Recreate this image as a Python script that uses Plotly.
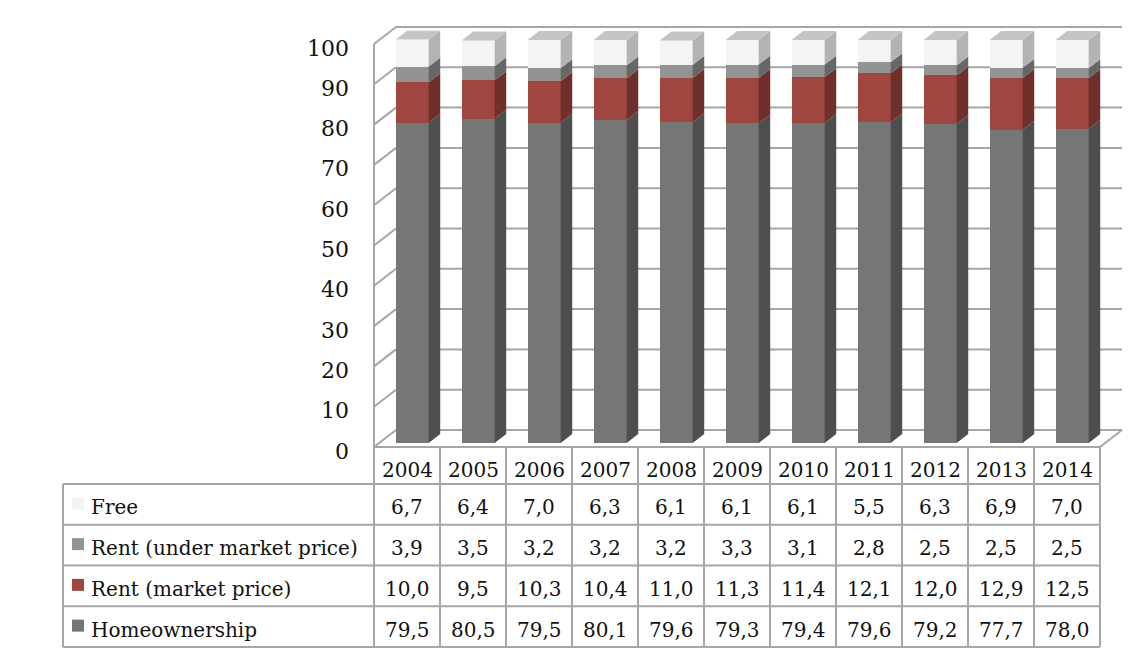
import plotly.graph_objects as go

# ---- data -------------------------------------------------------------
years = ["2004", "2005", "2006", "2007", "2008", "2009", "2010",
         "2011", "2012", "2013", "2014"]
homeownership = [79.5, 80.5, 79.5, 80.1, 79.6, 79.3, 79.4, 79.6, 79.2, 77.7, 78.0]
rent_market = [10.0, 9.5, 10.3, 10.4, 11.0, 11.3, 11.4, 12.1, 12.0, 12.9, 12.5]
rent_under = [3.9, 3.5, 3.2, 3.2, 3.2, 3.3, 3.1, 2.8, 2.5, 2.5, 2.5]
free = [6.7, 6.4, 7.0, 6.3, 6.1, 6.1, 6.1, 5.5, 6.3, 6.9, 7.0]
y_ticks = [0, 10, 20, 30, 40, 50, 60, 70, 80, 90, 100]

# series in stacking order (bottom -> top): name, values, front, side colours
series = [
    ("Homeownership", homeownership, "#767676", "#4e4e4e"),
    ("Rent (market price)", rent_market, "#9f4640", "#6f2f2b"),
    ("Rent (under market price)", rent_under, "#939393", "#676767"),
    ("Free", free, "#f3f5f5", "#b3b3b3"),
]
TOP_COLOR = "#c4c4c4"

# ---- geometry ---------------------------------------------------------
W, H = 1133, 648
COL0, COLW = 374, 66          # left edge / width of the table columns (px)
FLOOR_PX = 447                # pixel row of value 0 on the front plane
PPU = 4.03                    # pixels per value unit
DEPTH_PX_X, DEPTH_PX_Y = 22, 17   # oblique shift front -> back wall (px)

DX = DEPTH_PX_X / COLW        # x shift per unit depth, in category units
DY = DEPTH_PX_Y / PPU         # y shift per unit depth, in value units
BAR_FRONT, BAR_BACK = 0.235, 0.76   # depth of bar front / back faces
BAR_W = 0.5

x_range = [(0 - COL0) / COLW - 0.5, (W - COL0) / COLW - 0.5]
y_range = [(FLOOR_PX - H) / PPU, FLOOR_PX / PPU]


def P(cat, val, depth=0.0):
    return cat + depth * DX, val + depth * DY


def px_x(p):
    return p / W


def px_y(p):
    return 1 - p / H


FONT = "DejaVu Serif"
GRID = "#a6a6a6"
LINE_W = 2

fig = go.Figure()
shapes = []

# ---- walls & floor ----------------------------------------------------
left_front, right_front = -0.5, len(years) - 0.5
for v in y_ticks:
    x0, y0 = P(left_front, v, 1)
    x1, y1 = P(right_front, v, 1)
    shapes.append(dict(type="line", xref="x", yref="y", x0=x0, y0=y0, x1=x1, y1=y1,
                       line=dict(color=GRID, width=LINE_W), layer="below"))
    fx, fy = P(left_front, v, 0)
    shapes.append(dict(type="line", xref="x", yref="y", x0=fx, y0=fy, x1=x0, y1=y0,
                       line=dict(color=GRID, width=LINE_W), layer="below"))
# left wall front edge
shapes.append(dict(type="line", xref="x", yref="y", x0=left_front, y0=0,
                   x1=left_front, y1=100, line=dict(color=GRID, width=LINE_W),
                   layer="below"))
# floor front edge and right edge
shapes.append(dict(type="line", xref="x", yref="y", x0=left_front, y0=0,
                   x1=right_front, y1=0, line=dict(color=GRID, width=LINE_W),
                   layer="below"))
rx, ry = P(right_front, 0, 1)
shapes.append(dict(type="line", xref="x", yref="y", x0=right_front, y0=0,
                   x1=rx, y1=ry, line=dict(color=GRID, width=LINE_W), layer="below"))

# ---- 3D stacked columns -------------------------------------------------
n = len(years)
cum = [0.0] * n
depth_y = BAR_FRONT * DY
for name, vals, front, side in series:
    bases = [cum[i] + depth_y for i in range(n)]
    fig.add_trace(go.Bar(
        x=[i + BAR_FRONT * DX for i in range(n)], y=vals, base=bases,
        width=BAR_W, marker=dict(color=front, line=dict(width=0)),
        name=name, showlegend=False, hoverinfo="skip"))
    # side faces
    sx, sy = [], []
    d = BAR_BACK - BAR_FRONT
    for i in range(n):
        xr = i + BAR_FRONT * DX + BAR_W / 2
        b = cum[i] + depth_y
        t = b + vals[i]
        sx += [xr, xr, xr + d * DX, xr + d * DX, xr, None]
        sy += [b, t, t + d * DY, b + d * DY, b, None]
    fig.add_trace(go.Scatter(x=sx, y=sy, mode="lines", fill="toself",
                             fillcolor=side, line=dict(width=0, color=side),
                             showlegend=False, hoverinfo="skip"))
    cum = [cum[i] + vals[i] for i in range(n)]

# top faces of the stacks
tx, ty = [], []
d = BAR_BACK - BAR_FRONT
for i in range(n):
    xl = i + BAR_FRONT * DX - BAR_W / 2
    xr = xl + BAR_W
    t = cum[i] + depth_y
    tx += [xl, xr, xr + d * DX, xl + d * DX, xl, None]
    ty += [t, t, t + d * DY, t + d * DY, t, None]
fig.add_trace(go.Scatter(x=tx, y=ty, mode="lines", fill="toself",
                         fillcolor=TOP_COLOR, line=dict(width=0, color=TOP_COLOR),
                         showlegend=False, hoverinfo="skip"))

# ---- value axis labels ----------------------------------------------------
annotations = []
for v in y_ticks:
    annotations.append(dict(x=px_x(351), xref="paper", y=v, yref="y",
                            text=str(v), showarrow=False, xanchor="right",
                            yanchor="middle", yshift=-4,
                            font=dict(family=FONT, size=22, color="#111")))

# ---- data table ---------------------------------------------------------
HEAD_BOTTOM = 484
ROW_H = (647 - HEAD_BOTTOM) / 4
TABLE_LEFT = 63
TABLE_RIGHT = COL0 + COLW * n
TEXT_DROP = 3                   # baseline nudge for table text (px)
rows = list(reversed(series))   # Free on top, Homeownership at bottom


def tline(x0, y0, x1, y1):
    shapes.append(dict(type="line", xref="paper", yref="paper",
                       x0=px_x(x0), y0=px_y(y0), x1=px_x(x1), y1=px_y(y1),
                       line=dict(color=GRID, width=LINE_W)))


for k in range(n + 1):
    tline(COL0 + COLW * k, FLOOR_PX, COL0 + COLW * k, 647)
for r in range(5):
    yy = HEAD_BOTTOM + ROW_H * r
    tline(TABLE_LEFT, yy, TABLE_RIGHT, yy)
tline(TABLE_LEFT, HEAD_BOTTOM, TABLE_LEFT, 647)

for i, yr in enumerate(years):
    annotations.append(dict(x=i, xref="x",
                            y=px_y((FLOOR_PX + HEAD_BOTTOM) / 2 + 5),
                            yref="paper", text=yr, showarrow=False,
                            xanchor="center", yanchor="middle",
                            font=dict(family=FONT, size=20, color="#111")))

for r, (name, vals, front, side) in enumerate(rows):
    cy = HEAD_BOTTOM + ROW_H * (r + 0.5)
    shapes.append(dict(type="rect", xref="paper", yref="paper",
                       x0=px_x(72), x1=px_x(84), y0=px_y(cy - 7), y1=px_y(cy + 5),
                       fillcolor=front, line=dict(width=0)))
    annotations.append(dict(x=px_x(89), xref="paper", y=px_y(cy + TEXT_DROP),
                            yref="paper", text=name, showarrow=False,
                            xanchor="left", yanchor="middle",
                            font=dict(family=FONT, size=20, color="#111")))
    for i, v in enumerate(vals):
        annotations.append(dict(x=i, xref="x", y=px_y(cy + TEXT_DROP), yref="paper",
                                text=f"{v:.1f}".replace(".", ","),
                                showarrow=False, xanchor="center",
                                yanchor="middle",
                                font=dict(family=FONT, size=20, color="#111")))

fig.update_layout(
    width=W, height=H, margin=dict(l=0, r=0, t=0, b=0),
    paper_bgcolor="white", plot_bgcolor="white",
    barmode="overlay", bargap=0,
    xaxis=dict(range=x_range, domain=[0, 1], visible=False, fixedrange=True),
    yaxis=dict(range=y_range, domain=[0, 1], visible=False, fixedrange=True),
    shapes=shapes, annotations=annotations,
)

fig.write_html("out.html")
